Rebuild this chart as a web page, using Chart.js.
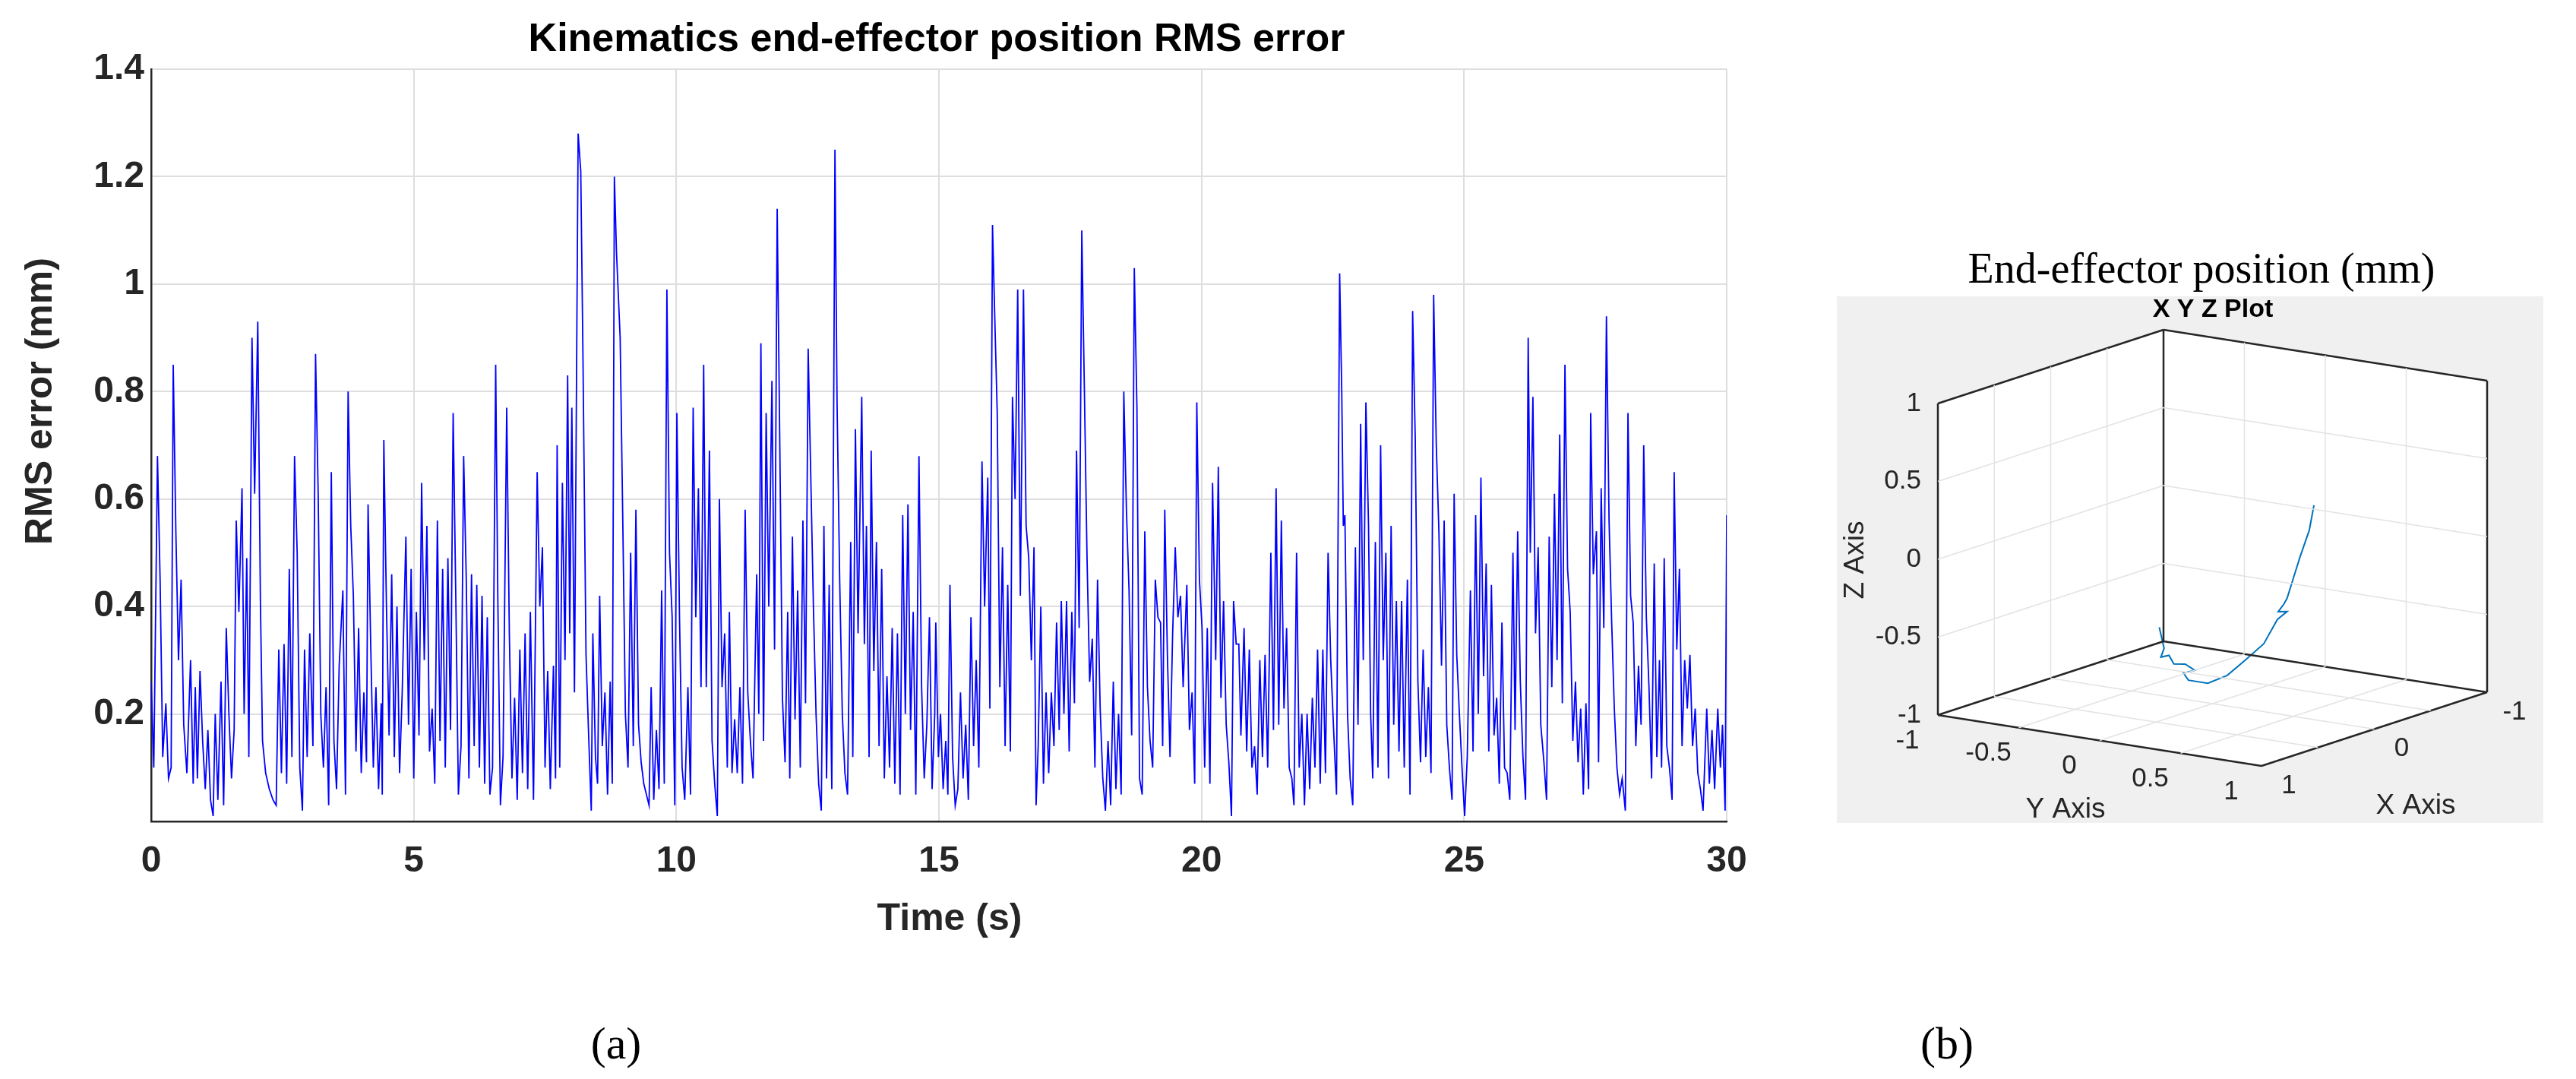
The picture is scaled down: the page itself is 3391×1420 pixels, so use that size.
<!DOCTYPE html>
<html><head><meta charset="utf-8">
<script src="https://cdn.jsdelivr.net/npm/chart.js@4.4.1/dist/chart.umd.min.js"></script>
<style>
html,body{margin:0;padding:0;background:#fff;width:3391px;height:1420px;overflow:hidden;position:relative}
canvas{position:absolute}
#bg{position:absolute;left:2418px;top:390px;width:930px;height:693px;background:#f0f0f0}
.lbl{position:absolute;font-family:"Liberation Serif","DejaVu Serif",serif;font-size:60px;color:#000;transform:translate(-50%,-50%)}
</style></head><body>
<div id="bg"></div>
<canvas id="c1" width="2330" height="1260" style="left:0;top:0"></canvas>
<canvas id="c2" width="991" height="820" style="left:2400px;top:300px"></canvas>
<div class="lbl" style="left:811px;top:1373px">(a)</div>
<div class="lbl" style="left:2563px;top:1373px">(b)</div>
<script>
const mainTitle = "Kinematics end-effector position RMS error";
const xTitle = "Time (s)";
const yTitle = "RMS error (mm)";
const xTicks = [0,5,10,15,20,25,30];
const yTicks = [0.2,0.4,0.6,0.8,1,1.2,1.4];

const seg1 = [[0,0.26],[0.05,0.10],[0.12,0.68],[0.17,0.45],[0.22,0.12],[0.28,0.22],[0.33,0.08],[0.38,0.10],[0.42,0.85],[0.47,0.54],[0.52,0.30],[0.57,0.45],[0.62,0.18],[0.68,0.09],[0.75,0.30],[0.8,0.07],[0.84,0.25],[0.88,0.08],[0.93,0.28],[0.98,0.15],[1.03,0.06],[1.08,0.17],[1.13,0.04],[1.18,0.01],[1.22,0.20],[1.27,0.04],[1.33,0.26],[1.38,0.03],[1.43,0.36],[1.48,0.20],[1.53,0.08],[1.58,0.17],[1.62,0.56],[1.67,0.39],[1.73,0.62],[1.77,0.20],[1.82,0.49],[1.86,0.12],[1.92,0.90],[1.97,0.61],[2.03,0.93],[2.08,0.41],[2.12,0.15],[2.18,0.09],[2.25,0.06],[2.32,0.04],[2.38,0.03],[2.43,0.32],[2.48,0.09],[2.53,0.33],[2.58,0.07],[2.63,0.47],[2.68,0.12],[2.73,0.68],[2.78,0.50],[2.83,0.10],[2.88,0.02],[2.92,0.32],[2.97,0.12],[3.02,0.35],[3.08,0.14],[3.13,0.87],[3.18,0.61],[3.23,0.20],[3.28,0.10],[3.33,0.25],[3.38,0.03],[3.43,0.65],[3.48,0.15],[3.53,0.06],[3.58,0.29],[3.65,0.43],[3.7,0.05],[3.75,0.80],[3.8,0.55],[3.85,0.42],[3.9,0.13],[3.95,0.36],[4.0,0.09],[4.05,0.24],[4.1,0.11],[4.13,0.59],[4.18,0.33],[4.23,0.10],[4.28,0.25],[4.33,0.06],[4.38,0.22],[4.40,0.05],[4.43,0.71],[4.48,0.40],[4.53,0.16],[4.58,0.46],[4.63,0.12],[4.68,0.40],[4.73,0.09],[4.78,0.24],[4.85,0.53],[4.9,0.18],[4.95,0.47],[5.0,0.08],[5.05,0.39],[5.1,0.16],[5.15,0.63],[5.2,0.30],[5.25,0.55],[5.3,0.13],[5.35,0.21],[5.4,0.07],[5.45,0.56],[5.5,0.15],[5.55,0.47],[5.6,0.10],[5.65,0.49],[5.7,0.17],[5.75,0.76],[5.8,0.42],[5.85,0.05],[5.9,0.14],[5.95,0.68],[6.0,0.45],[6.05,0.08],[6.1,0.46],[6.15,0.14],[6.2,0.44],[6.25,0.10],[6.3,0.42],[6.35,0.07],[6.4,0.38],[6.45,0.05],[6.5,0.10],[6.56,0.85],[6.6,0.42],[6.65,0.03],[6.7,0.12],[6.77,0.77],[6.82,0.35],[6.87,0.08],[6.92,0.23],[6.97,0.04],[7.02,0.32],[7.07,0.09],[7.12,0.35],[7.17,0.06],[7.22,0.39],[7.28,0.04],[7.35,0.65],[7.4,0.40],[7.45,0.51],[7.5,0.10],[7.55,0.28],[7.6,0.06]];
const seg2 = [[7.66,0.29],[7.70,0.08],[7.73,0.70],[7.78,0.10],[7.83,0.63],[7.88,0.30],[7.93,0.83],[7.97,0.35],[8.01,0.77],[8.06,0.24],[8.13,1.28],[8.18,1.21],[8.22,0.88],[8.28,0.31],[8.33,0.16],[8.38,0.02],[8.41,0.35],[8.46,0.12],[8.50,0.07],[8.54,0.42],[8.59,0.14],[8.64,0.24],[8.69,0.05],[8.74,0.26],[8.78,0.07],[8.82,1.20],[8.86,1.06],[8.93,0.90],[8.98,0.56],[9.03,0.20],[9.08,0.10],[9.13,0.50],[9.18,0.14],[9.23,0.58],[9.28,0.18],[9.33,0.11],[9.38,0.07],[9.43,0.05],[9.48,0.03],[9.52,0.25],[9.57,0.04],[9.62,0.17],[9.67,0.06],[9.72,0.43],[9.77,0.07],[9.82,0.99],[9.87,0.50],[9.92,0.38],[9.97,0.03],[10.01,0.76],[10.06,0.38],[10.11,0.10],[10.16,0.04],[10.22,0.25],[10.27,0.05],[10.32,0.77],[10.37,0.38],[10.42,0.62],[10.47,0.25],[10.52,0.85],[10.57,0.25],[10.63,0.69],[10.68,0.15],[10.73,0.07],[10.78,0.01],[10.82,0.60],[10.87,0.25],[10.92,0.35],[10.97,0.10],[11.01,0.39],[11.06,0.09],[11.11,0.19],[11.16,0.09],[11.21,0.25],[11.26,0.07],[11.31,0.58],[11.36,0.24],[11.41,0.15],[11.46,0.08],[11.53,0.46],[11.57,0.20],[11.61,0.89],[11.66,0.15],[11.71,0.76],[11.76,0.40],[11.82,0.82],[11.87,0.32],[11.92,1.14],[11.97,0.70],[12.02,0.23],[12.07,0.11],[12.12,0.39],[12.16,0.08],[12.21,0.53],[12.26,0.19],[12.31,0.43],[12.36,0.10],[12.41,0.56],[12.46,0.22],[12.51,0.88],[12.56,0.64],[12.61,0.40],[12.66,0.20],[12.71,0.07],[12.76,0.02],[12.81,0.55],[12.86,0.08],[12.91,0.44],[12.96,0.06],[13.02,1.25],[13.06,0.78],[13.11,0.45],[13.16,0.20],[13.21,0.09],[13.26,0.05],[13.32,0.52],[13.36,0.12],[13.41,0.73],[13.46,0.35],[13.53,0.79],[13.58,0.33],[13.62,0.55],[13.67,0.12],[13.71,0.69],[13.76,0.28],[13.81,0.52],[13.86,0.14],[13.91,0.47],[13.96,0.08],[14.01,0.27],[14.06,0.10],[14.11,0.36],[14.16,0.07],[14.21,0.35],[14.26,0.05],[14.31,0.57],[14.36,0.20],[14.41,0.59],[14.46,0.17],[14.51,0.39],[14.56,0.05],[14.62,0.68],[14.67,0.25],[14.72,0.08],[14.77,0.18],[14.82,0.38],[14.87,0.06],[14.92,0.20]];
const seg3 = [[14.94,0.37],[14.99,0.12],[15.03,0.20],[15.08,0.06],[15.13,0.15],[15.17,0.05],[15.21,0.44],[15.26,0.12],[15.31,0.03],[15.36,0.06],[15.41,0.24],[15.46,0.08],[15.51,0.18],[15.56,0.04],[15.61,0.38],[15.66,0.14],[15.71,0.30],[15.76,0.10],[15.82,0.67],[15.87,0.40],[15.93,0.64],[15.97,0.21],[16.02,1.11],[16.06,0.95],[16.11,0.76],[16.16,0.25],[16.21,0.51],[16.26,0.14],[16.31,0.44],[16.36,0.13],[16.40,0.79],[16.45,0.60],[16.50,0.99],[16.55,0.42],[16.61,0.99],[16.66,0.55],[16.71,0.49],[16.76,0.30],[16.81,0.51],[16.85,0.03],[16.89,0.14],[16.94,0.40],[16.99,0.07],[17.04,0.24],[17.09,0.09],[17.14,0.24],[17.19,0.14],[17.24,0.37],[17.29,0.17],[17.33,0.41],[17.38,0.20],[17.43,0.41],[17.48,0.13],[17.53,0.39],[17.58,0.22],[17.62,0.69],[17.67,0.36],[17.72,1.10],[17.77,0.80],[17.82,0.49],[17.87,0.26],[17.92,0.34],[17.97,0.10],[18.02,0.45],[18.07,0.21],[18.12,0.08],[18.17,0.02],[18.22,0.15],[18.27,0.03],[18.32,0.26],[18.37,0.06],[18.42,0.20],[18.47,0.05],[18.52,0.80],[18.57,0.58],[18.62,0.43],[18.67,0.16],[18.72,1.03],[18.77,0.77],[18.82,0.08],[18.87,0.05],[18.92,0.54],[18.97,0.25],[19.02,0.15],[19.07,0.10],[19.12,0.45],[19.17,0.38],[19.22,0.37],[19.26,0.14],[19.30,0.58],[19.35,0.31],[19.40,0.12],[19.45,0.35],[19.50,0.51],[19.55,0.38],[19.60,0.42],[19.65,0.25],[19.72,0.44],[19.77,0.17],[19.82,0.24],[19.87,0.07],[19.91,0.78],[19.96,0.45],[20.01,0.36],[20.06,0.10],[20.11,0.36],[20.16,0.07],[20.21,0.63],[20.27,0.30],[20.32,0.66],[20.37,0.23],[20.42,0.41],[20.47,0.18],[20.52,0.11],[20.57,0.01],[20.61,0.41],[20.66,0.33],[20.71,0.33],[20.75,0.16],[20.81,0.36],[20.86,0.13],[20.91,0.32],[20.96,0.10],[21.01,0.14],[21.06,0.05],[21.11,0.30],[21.16,0.12],[21.21,0.31],[21.26,0.10],[21.32,0.50],[21.37,0.17],[21.42,0.62],[21.47,0.18],[21.52,0.56],[21.57,0.21],[21.62,0.36],[21.67,0.10],[21.72,0.08],[21.76,0.03],[21.81,0.50],[21.86,0.10],[21.91,0.20],[21.96,0.03],[22.01,0.20],[22.06,0.06],[22.11,0.23],[22.16,0.10],[22.21,0.32],[22.26,0.07],[22.31,0.32],[22.36,0.09],[22.41,0.50],[22.46,0.30],[22.52,0.16],[22.57,0.05]];
const seg4 = [[22.63,1.02],[22.67,0.80],[22.70,0.55],[22.73,0.57],[22.78,0.20],[22.83,0.08],[22.88,0.03],[22.93,0.51],[22.98,0.18],[23.03,0.74],[23.08,0.30],[23.13,0.78],[23.18,0.55],[23.22,0.20],[23.26,0.08],[23.31,0.52],[23.36,0.10],[23.41,0.70],[23.46,0.30],[23.51,0.50],[23.56,0.08],[23.61,0.55],[23.66,0.18],[23.71,0.41],[23.76,0.13],[23.81,0.41],[23.86,0.10],[23.92,0.45],[23.97,0.05],[24.02,0.95],[24.07,0.71],[24.12,0.26],[24.17,0.11],[24.22,0.32],[24.27,0.12],[24.32,0.25],[24.37,0.09],[24.42,0.98],[24.47,0.70],[24.52,0.54],[24.57,0.29],[24.62,0.56],[24.67,0.18],[24.72,0.10],[24.77,0.04],[24.81,0.61],[24.86,0.31],[24.91,0.20],[24.96,0.10],[25.01,0.01],[25.06,0.12],[25.12,0.43],[25.17,0.13],[25.22,0.57],[25.27,0.20],[25.32,0.64],[25.37,0.27],[25.42,0.48],[25.47,0.13],[25.52,0.44],[25.57,0.16],[25.62,0.23],[25.67,0.07],[25.72,0.37],[25.77,0.10],[25.82,0.09],[25.87,0.04],[25.93,0.50],[25.97,0.17],[26.02,0.54],[26.07,0.26],[26.12,0.12],[26.17,0.04],[26.22,0.90],[26.26,0.50],[26.31,0.79],[26.36,0.35],[26.41,0.51],[26.46,0.18],[26.52,0.11],[26.57,0.04],[26.62,0.53],[26.67,0.25],[26.72,0.61],[26.77,0.30],[26.82,0.72],[26.87,0.22],[26.92,0.85],[26.97,0.47],[27.02,0.39],[27.07,0.15],[27.12,0.26],[27.17,0.11],[27.22,0.21],[27.27,0.05],[27.32,0.22],[27.37,0.06],[27.41,0.76],[27.46,0.46],[27.52,0.54],[27.56,0.11],[27.61,0.62],[27.66,0.36],[27.71,0.94],[27.76,0.56],[27.81,0.37],[27.86,0.21],[27.91,0.10],[27.96,0.05],[28.01,0.08],[28.07,0.02],[28.12,0.76],[28.17,0.42],[28.22,0.37],[28.27,0.14],[28.32,0.29],[28.37,0.18],[28.42,0.70],[28.47,0.38],[28.52,0.25],[28.57,0.08],[28.62,0.48],[28.67,0.12],[28.72,0.30],[28.76,0.10],[28.81,0.49],[28.86,0.14],[28.91,0.10],[28.96,0.04],[29.00,0.65],[29.05,0.32],[29.10,0.47],[29.15,0.14],[29.20,0.30],[29.25,0.21],[29.30,0.31],[29.35,0.14],[29.40,0.21],[29.45,0.09],[29.50,0.06],[29.55,0.02],[29.62,0.21],[29.67,0.07],[29.72,0.17],[29.77,0.06],[29.83,0.21],[29.88,0.10],[29.92,0.18],[29.97,0.02],[30.0,0.57]];

// 3D panel data
const plot3dTitle = "End-effector position (mm)";
const plot3dSub = "X Y Z Plot";
const axis3dTicks = [-1,-0.5,0,0.5,1];
const xTicks3d = [-1,0,1];
const trajX = [-0.36,-0.36,-0.36,-0.36,-0.36,-0.36,-0.36,-0.36,-0.36,-0.36,-0.36,-0.36,-0.36,-0.36,-0.36,-0.36,-0.36,-0.36,-0.36,-0.36,-0.36,-0.36];
const trajY = [0.376,0.347,0.29,0.26,0.21,0.19,0.155,0.21,0.15,0.066,-0.05,-0.16,-0.28,-0.40,-0.43,-0.36,-0.42,-0.49,-0.52,-0.57,-0.55,-0.58];
const trajZ = [0.25,0.084,-0.096,-0.2,-0.374,-0.415,-0.47,-0.46,-0.52,-0.69,-0.815,-0.93,-1.0,-1.0,-0.96,-0.93,-0.90,-0.91,-0.86,-0.88,-0.82,-0.69];

const series = [].concat(seg1,seg2,seg3,seg4).map(p=>({x:p[0],y:p[1]}));
Chart.defaults.devicePixelRatio = 1;
const sans = '"Liberation Sans", Arial, sans-serif';

const textPlugin = {
  id:'txt',
  afterDraw(ch){
    const c = ch.ctx; c.save();
    c.fillStyle='#000'; c.textAlign='center'; c.textBaseline='middle';
    c.font = 'bold 52px '+sans; c.fillText(mainTitle,1233,53);
    c.fillStyle='#262626';
    c.font = 'bold 50px '+sans; c.fillText(xTitle,1250,1210);
    c.translate(54,528); c.rotate(-Math.PI/2); c.fillText(yTitle,0,0);
    c.restore();
  }
};

new Chart(document.getElementById('c1'),{
  type:'line',
  data:{datasets:[{data:series,borderColor:'#0000ff',borderWidth:1.8,pointRadius:0,tension:0,fill:false}]},
  options:{
    responsive:false,animation:false,
    layout:{padding:{top:91,right:57,left:0,bottom:0}},
    plugins:{legend:{display:false},tooltip:{enabled:false}},
    scales:{
      x:{type:'linear',min:0,max:30,
        afterBuildTicks(s){s.ticks=xTicks.map(v=>({value:v}));},
        afterFit(s){s.height=179;},
        grid:{color:'#dedede',lineWidth:2,drawTicks:false},
        border:{color:'#262626',width:2.5},
        ticks:{padding:24,color:'#262626',font:{family:sans,size:48,weight:'bold'},maxRotation:0}},
      y:{type:'linear',min:0,max:1.4,
        afterBuildTicks(s){s.ticks=[{value:0}].concat(yTicks.map(v=>({value:v})));},
        afterFit(s){s.width=199;},
        grid:{color:'#dedede',lineWidth:2,drawTicks:false},
        border:{color:'#262626',width:2.5},
        ticks:{padding:9,color:'#262626',font:{family:sans,size:48,weight:'bold'},
          callback:v=> v===0 ? '' : String(Math.round(v*10)/10)}}
    }
  },
  plugins:[textPlugin]
});

// ---- 3D panel ----
const P0={x:2551,y:941}, vY={x:426,y:67}, vX={x:297,y:-97}, vZ={x:0,y:-410};
function proj(X,Y,Z){
  const a=(Y+1)/2, b=(1-X)/2, c=(Z+1)/2;
  return {x:P0.x+a*vY.x+b*vX.x+c*vZ.x, y:P0.y+a*vY.y+b*vX.y+c*vZ.y};
}
function segs(list){const out=[];list.forEach(s=>{out.push(proj(...s[0]));out.push(proj(...s[1]));out.push({x:null,y:null});});return out;}
const edges=segs([
 [[1,-1,-1],[1,-1,1]],[[-1,-1,-1],[-1,-1,1]],[[-1,1,-1],[-1,1,1]],
 [[1,-1,1],[-1,-1,1]],[[-1,-1,1],[-1,1,1]],
 [[1,-1,-1],[1,1,-1]],[[1,1,-1],[-1,1,-1]],[[-1,-1,-1],[1,-1,-1]],[[-1,-1,-1],[-1,1,-1]]
]);
const gl=[];
[-0.5,0,0.5].forEach(t=>{
  gl.push([[1,-1,t],[-1,-1,t]]); gl.push([[-1,-1,t],[-1,1,t]]);
  gl.push([[t,-1,-1],[t,-1,1]]); gl.push([[t,-1,-1],[t,1,-1]]);
  gl.push([[-1,t,-1],[-1,t,1]]); gl.push([[1,t,-1],[-1,t,-1]]);
});
const grid3=segs(gl);
const traj=trajX.map((x,i)=>proj(x,trajY[i],trajZ[i]));

const panelPlugin={
  id:'panel',
  beforeDatasetsDraw(ch){
    const c=ch.ctx, sx=ch.scales.x, sy=ch.scales.y;
    const px=p=>[sx.getPixelForValue(p.x),sy.getPixelForValue(p.y)];
    const poly=[proj(1,-1,1),proj(-1,-1,1),proj(-1,1,1),proj(-1,1,-1),proj(1,1,-1),proj(1,-1,-1)];
    c.save();c.fillStyle='#fff';c.beginPath();
    poly.forEach((p,i)=>{const q=px(p); i?c.lineTo(q[0],q[1]):c.moveTo(q[0],q[1]);});
    c.closePath();c.fill();c.restore();
  },
  afterDraw(ch){
    const c=ch.ctx, sx=ch.scales.x, sy=ch.scales.y;
    const px=p=>[sx.getPixelForValue(p.x),sy.getPixelForValue(p.y)];
    c.save();
    c.fillStyle='#000';c.textAlign='center';c.textBaseline='middle';
    c.font='56px "Liberation Serif","DejaVu Serif",serif';
    let q=px({x:2898,y:357}); c.fillText(plot3dTitle,q[0],q[1]);
    c.font='bold 34px '+sans; q=px({x:2913,y:408}); c.fillText(plot3dSub,q[0],q[1]);
    c.fillStyle='#262626'; c.font='35px '+sans;
    axis3dTicks.forEach(t=>{
      const lab=String(t);
      let p=px(proj(1,-1,t)); c.textAlign='right'; c.fillText(lab,p[0]-22,p[1]);
      p=px(proj(1,t,-1)); c.textAlign='center'; c.fillText(lab,p[0]-40,p[1]+34);
    });
    xTicks3d.forEach(t=>{let p=px(proj(t,1,-1)); c.textAlign='center'; c.fillText(String(t),p[0]+36,p[1]+26);});
    c.font='37px '+sans; c.textAlign='center';
    q=px({x:2719,y:1066}); c.fillText('Y Axis',q[0],q[1]);
    q=px({x:3180,y:1061}); c.fillText('X Axis',q[0],q[1]);
    q=px({x:2443,y:737}); c.translate(q[0],q[1]); c.rotate(-Math.PI/2); c.fillText('Z Axis',0,0);
    c.restore();
  }
};

new Chart(document.getElementById('c2'),{
  type:'scatter',
  data:{datasets:[
    {data:grid3,showLine:true,borderColor:'#e3e3e3',borderWidth:1.5,pointRadius:0,spanGaps:false},
    {data:edges,showLine:true,borderColor:'#262626',borderWidth:2.5,pointRadius:0,spanGaps:false},
    {data:traj,showLine:true,borderColor:'#0072bd',borderWidth:2,pointRadius:0}
  ]},
  options:{responsive:false,animation:false,layout:{padding:0},
    plugins:{legend:{display:false},tooltip:{enabled:false}},
    scales:{x:{type:'linear',display:false,min:2400,max:3391},
            y:{type:'linear',display:false,min:300,max:1120,reverse:true}}},
  plugins:[panelPlugin]
});
</script></body></html>
